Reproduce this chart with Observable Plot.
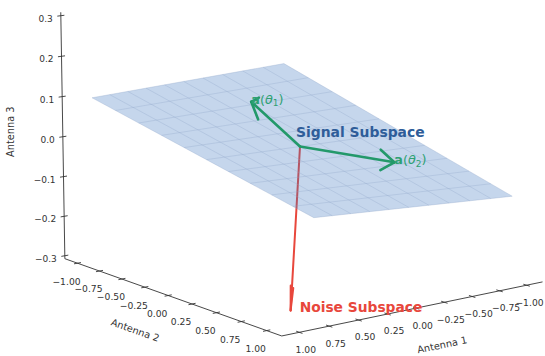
<!DOCTYPE html>
<html><head><meta charset="utf-8">
<script src="https://cdn.jsdelivr.net/npm/d3@7"></script>
<script src="https://cdn.jsdelivr.net/npm/@observablehq/plot@0.6"></script>
<style>html,body{margin:0;padding:0;background:#fff;} svg{display:block;}</style>
</head><body><div id="chart"></div>
<script>
// ---------------- data ----------------
const axisLabels = ["Antenna 1", "Antenna 2", "Antenna 3"];
const xTicks = [-1, -0.75, -0.5, -0.25, 0, 0.25, 0.5, 0.75, 1];
const yTicks = [-1, -0.75, -0.5, -0.25, 0, 0.25, 0.5, 0.75, 1];
const zTicks = [-0.3, -0.2, -0.1, 0, 0.1, 0.2, 0.3];
const xyTickLabels = ["−1.00", "−0.75", "−0.50", "−0.25", "0.00", "0.25", "0.50", "0.75", "1.00"];
const zTickLabels = ["−0.3", "−0.2", "−0.1", "0.0", "0.1", "0.2", "0.3"];
const xyLimit = 1.1;          // axis limits ±1.1 (data ±1 plus margin)
const zLimit = 0.3;           // z limits ±0.3
const planeGrid = [-1, -0.8, -0.6, -0.4, -0.2, 0, 0.2, 0.4, 0.6, 0.8, 1];
const planeSlope = [0.2, 0.1]; // signal plane: z = 0.2·x + 0.1·y
const vectorNames = ["a(θ1)", "a(θ2)", "noise"];
const vectorComponents = [[0.62, 0.23, 0.15], [-0.37, 0.53, -0.02], [0.11, 0.03, -0.40]];
const subspaceNames = ["Signal Subspace", "Noise Subspace"];

// ---------------- view (matplotlib-like perspective camera) ----------------
const W = 545, H = 356;
const deg = Math.PI / 180;
const elev = 12.2 * deg, azim = 52.5 * deg;
const U = [-Math.sin(azim), Math.cos(azim), 0];
const V = [-Math.sin(elev) * Math.cos(azim), -Math.sin(elev) * Math.sin(azim), Math.cos(elev)];
const Wv = [Math.cos(elev) * Math.cos(azim), Math.cos(elev) * Math.sin(azim), Math.sin(elev)];
const box = [0.4593, 0.5195, 1.345];
const DIST = 10, K = 3086, CX = 299.5, CY = 146;
const dot = (a, b) => a[0] * b[0] + a[1] * b[1] + a[2] * b[2];
function project(p) {
  const P = [p[0] * box[0], p[1] * box[1], p[2] * box[2]];
  const d = DIST - dot(P, Wv);
  return {sx: dot(P, U) / d, sy: dot(P, V) / d};
}
const E = xyLimit * (1 + 1 / 24);   // pane edge (matplotlib pads by range/48)
const Z = zLimit * 1.025;

// axis lines
const axisPath = [[E, -E, Z], [E, -E, -Z], [E, E, -Z], [-E, E, -Z]].map(project);
const tk = 0.03;
const seg = (a, b, extra) => ({a: project(a), b: project(b), ...extra});
const zTickSegs = zTicks.map((z, i) => seg([E - tk, -E, z], [E + tk, -E, z], {label: zTickLabels[i]}));
const yTickSegs = yTicks.map((y, i) => seg([E - tk, y, -Z], [E + tk, y, -Z], {label: xyTickLabels[i]}));
const xTickSegs = xTicks.map((x, i) => seg([x, E - tk, -Z], [x, E + tk, -Z], {label: xyTickLabels[i]}));
const mid = s => ({sx: (s.a.sx + s.b.sx) / 2, sy: (s.a.sy + s.b.sy) / 2, label: s.label});

// plane
const zPlane = (x, y) => planeSlope[0] * x + planeSlope[1] * y;
const g0 = planeGrid[0], g1 = planeGrid[planeGrid.length - 1];
const planePoly = [[g0, g0], [g1, g0], [g1, g1], [g0, g1], [g0, g0]].map(([x, y]) => project([x, y, zPlane(x, y)]));
const gridLines = [];
planeGrid.forEach((g) => {
  gridLines.push(seg([g, g0, zPlane(g, g0)], [g, g1, zPlane(g, g1)]));
  gridLines.push(seg([g0, g, zPlane(g0, g)], [g1, g, zPlane(g1, g)]));
});

// arrows (matplotlib quiver-style heads: ±15° about horizontal perpendicular)
const ratio = 0.15;
function arrow(vec, name) {
  const [x, y] = vec;
  const n = Math.hypot(x, y);
  const xp = y / n, yp = -x / n;
  const segs = [seg([0, 0, 0], vec, {name})];
  for (const sgn of [1, -1]) {
    const c = Math.cos(15 * deg), s = sgn * Math.sin(15 * deg);
    const R = [[c + xp * xp * (1 - c), xp * yp * (1 - c), yp * s],
               [xp * yp * (1 - c), c + yp * yp * (1 - c), -xp * s],
               [-yp * s, xp * s, c]];
    const r = R.map(row => dot(row, vec));
    segs.push(seg(vec, [vec[0] - ratio * r[0], vec[1] - ratio * r[1], vec[2] - ratio * r[2]], {name}));
  }
  return segs;
}
const greenSegs = [...arrow(vectorComponents[0], vectorNames[0]), ...arrow(vectorComponents[1], vectorNames[1])];
const redSegs = arrow(vectorComponents[2], vectorNames[2]);
const tips = vectorComponents.map((c, i) => ({...project(c), name: vectorNames[i]}));
const origin = project([0, 0, 0]);

// axis label angles from projected axes
const pxAngle = (p, q) => Math.atan2(-(q.sy - p.sy) * K, (q.sx - p.sx) * K) / deg;
const ang2 = pxAngle(project([E, -E, -Z]), project([E, E, -Z]));
const ang1 = pxAngle(project([E, E, -Z]), project([-E, E, -Z]));
const y0 = mid(yTickSegs[4]), x0 = mid(xTickSegs[4]), z0 = mid(zTickSegs[3]);

const green = "#23996a", red = "#e8473c", blue = "#2f5d99", ink = "#333";
const link = (data, o) => Plot.link(data, {x1: d => d.a.sx, y1: d => d.a.sy, x2: d => d.b.sx, y2: d => d.b.sy, ...o});
const XY = {x: "sx", y: "sy"};
// keep the right-most Antenna 1 tick label inside the frame
const xLabelMax = (W - 16 - 6.5 - CX) / K;

const chart = Plot.plot({
  width: W, height: H, margin: 0,
  x: {domain: [-CX / K, (W - CX) / K], range: [0, W], axis: null},
  y: {domain: [CY / K, (CY - H) / K], range: [0, H], axis: null},
  style: {fontFamily: "DejaVu Sans, sans-serif", fontSize: "9px", background: "#fff"},
  marks: [
    // axes
    Plot.line(axisPath, {...XY, stroke: ink, strokeWidth: 0.9}),
    link(zTickSegs, {stroke: ink, strokeWidth: 0.9}),
    link(yTickSegs, {stroke: ink, strokeWidth: 0.9}),
    link(xTickSegs, {stroke: ink, strokeWidth: 0.9}),
    Plot.text(zTickSegs.map(mid), {...XY, text: "label", textAnchor: "end", dx: -8, dy: 3, fill: ink, fontSize: 9}),
    Plot.text(yTickSegs.map(mid), {...XY, text: "label", dx: -11, dy: 18.5, fill: ink, fontSize: 9.2}),
    Plot.text(xTickSegs.map(mid), {x: d => Math.min(d.sx, xLabelMax), y: "sy", text: "label", dx: 6.5, dy: 17.5, fill: ink, fontSize: 9.2}),
    Plot.text([x0], {...XY, text: [axisLabels[0]], dx: 26, dy: 37, rotate: ang1, fill: ink, fontSize: 9.8}),
    Plot.text([y0], {...XY, text: [axisLabels[1]], dx: -33, dy: 35, rotate: ang2, fill: ink, fontSize: 9.8}),
    Plot.text([z0], {...XY, text: [axisLabels[2]], dx: -52, dy: -5, rotate: -90, fill: ink, fontSize: 9.8}),
    // noise vector (behind the translucent plane)
    link(redSegs, {stroke: red, strokeWidth: 2, strokeLinecap: "round"}),
    // signal plane
    Plot.line(planePoly, {...XY, fill: "#3e76c0", fillOpacity: 0.3, stroke: "none"}),
    link(gridLines, {stroke: "#8ea6c8", strokeOpacity: 0.45, strokeWidth: 0.7}),
    // steering vectors
    link(greenSegs, {stroke: green, strokeWidth: 2.6, strokeLinecap: "round"}),
    Plot.text(tips.slice(0, 2), {...XY, text: "name", textAnchor: "start", lineAnchor: "bottom", dx: 0, dy: 2, fill: "#2fa173", fontSize: 12.8}),
    Plot.text([origin], {...XY, text: [subspaceNames[0]], textAnchor: "start", lineAnchor: "bottom", dx: -4, dy: -10, fill: blue, fontWeight: "bold", fontSize: 13.9}),
    Plot.text([tips[2]], {...XY, text: [subspaceNames[1]], textAnchor: "start", lineAnchor: "bottom", dx: 9, dy: 2, fill: red, fontWeight: "bold", fontSize: 13.8})
  ]
});
document.getElementById("chart").appendChild(chart);

// render "a(θn)" labels with bold a and subscript like mathtext
d3.select(chart).selectAll("text").each(function () {
  const m = (this.textContent || "").match(/^a\(θ(\d)\)$/);
  if (!m) return;
  const t = d3.select(this);
  t.text(null);
  t.append("tspan").attr("font-weight", "bold").text("a");
  t.append("tspan").text("(");
  t.append("tspan").attr("font-style", "italic").text("θ");
  t.append("tspan").attr("font-size", "70%").attr("dy", "0.25em").text(m[1]);
  t.append("tspan").attr("dy", "-0.25em").text(")");
});
</script>
</body></html>
